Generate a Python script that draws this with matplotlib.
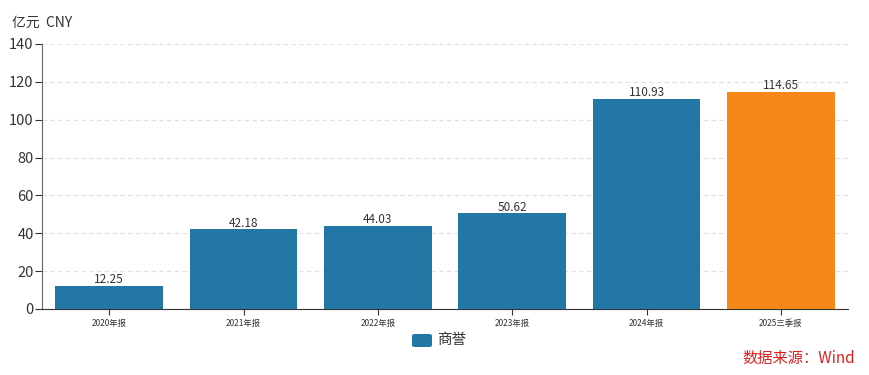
import matplotlib.pyplot as plt
from matplotlib.patches import FancyBboxPatch

plt.rcParams['font.family'] = ['Noto Sans CJK SC', 'DejaVu Sans']

# data
categories = ['2020年报', '2021年报', '2022年报', '2023年报', '2024年报', '2025三季报']
values = [12.25, 42.18, 44.03, 50.62, 110.93, 114.65]
colors = ['#2277a4'] * 5 + ['#f68819']

fig = plt.figure(figsize=(8.69, 3.75), dpi=100)
ax = fig.add_axes([0.0483, 0.176, 0.9277, 0.707])

x = range(len(categories))
bars = ax.bar(x, values, width=0.8, color=colors, zorder=3)
for xi, v in zip(x, values):
    ax.text(xi, v - 0.3, f'{v:.2f}', ha='center', va='bottom', fontsize=8.5, color='#333333', zorder=4)

ax.set_xlim(-0.5, len(categories) - 0.5)
ax.set_ylim(0, 140)
ax.set_yticks(range(0, 141, 20))
ax.set_xticks(list(x))
ax.set_xticklabels(categories, fontsize=6, color='#333333')
ax.tick_params(axis='y', labelsize=10.5, colors='#333333', length=5, width=0.8, pad=1)
ax.tick_params(axis='x', length=4, width=0.8, colors='#333333', pad=3)
ax.yaxis.grid(True, linestyle=(0, (4, 3)), color='#e0e0e0', linewidth=0.8, zorder=0)
for s in ['top', 'right']:
    ax.spines[s].set_visible(False)
ax.spines['left'].set_color('#666666')
ax.spines['bottom'].set_color('#333333')

fig.text(0.014, 1 - 30 / 375, '亿元  CNY', fontsize=10, color='#333333', ha='left', va='bottom')

# legend
patch = FancyBboxPatch((412 / 869, 1 - 347 / 375), 20 / 869, 13 / 375,
                       boxstyle='round,pad=0,rounding_size=0.004', transform=fig.transFigure,
                       facecolor='#2277a4', edgecolor='none')
fig.patches.append(patch)
fig.text(437 / 869, 1 - 340 / 375, '商誉', fontsize=10.5, color='#333333', ha='left', va='center')

fig.text(0.984, 1 - 358 / 375, '数据来源：Wind', fontsize=11, color='#e02020', ha='right', va='center')

fig.savefig('out.png', dpi=100)
